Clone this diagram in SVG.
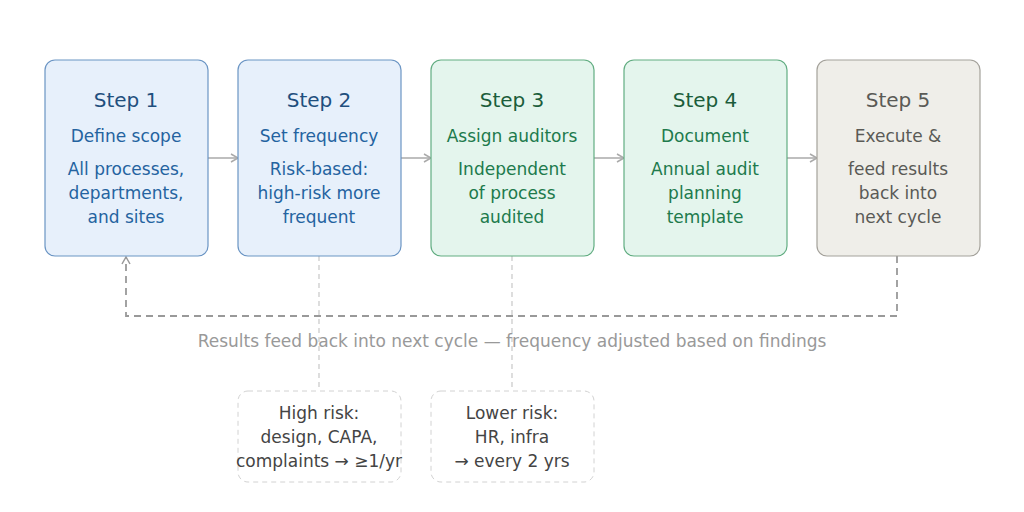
<svg xmlns="http://www.w3.org/2000/svg" width="1024" height="512" viewBox="0 0 1024 512">
<style>
text{font-family:"DejaVu Sans",sans-serif;text-anchor:middle;font-size:17px}
.t{font-size:20px}
.b rect{fill:#e7f0fb;stroke:#6b95c4;stroke-width:1.2}
.b text{fill:#2463a0}.b .t{fill:#1f4f7e}
.g rect{fill:#e4f5ed;stroke:#62ad82;stroke-width:1.2}
.g text{fill:#207a4c}.g .t{fill:#1b5d3b}
.y rect{fill:#efeee9;stroke:#a4a29b;stroke-width:1.2}
.y text{fill:#5a5a56}
.n rect{fill:#fff;stroke:#d2d2d2;stroke-dasharray:5 4}
.n text{fill:#444}
.c{fill:none;stroke:#aaa;stroke-width:1.5}
.d{fill:none;stroke:#999;stroke-width:1.8;stroke-dasharray:7 5}
.l{fill:none;stroke:#ccc;stroke-width:1.3;stroke-dasharray:5 4}
</style>
<defs><marker id="a" markerWidth="10" markerHeight="10" refX="8" refY="5" orient="auto" markerUnits="userSpaceOnUse"><path d="M1,1 L8,5 L1,9" fill="none" stroke="#aaa" stroke-width="1.5"/></marker>
<marker id="a2" markerWidth="10" markerHeight="10" refX="8" refY="5" orient="auto" markerUnits="userSpaceOnUse"><path d="M1,1 L8,5 L1,9" fill="none" stroke="#999" stroke-width="1.5"/></marker></defs>
<g id="connectors">
<path class="c" d="M208 158H238" marker-end="url(#a)"/>
<path class="c" d="M401 158H431" marker-end="url(#a)"/>
<path class="c" d="M594 158H624" marker-end="url(#a)"/>
<path class="c" d="M787 158H817" marker-end="url(#a)"/>
<path class="d" d="M897 256V316H126V257" marker-end="url(#a2)"/>
<path class="l" d="M319 256V391"/>
<path class="l" d="M512 256V391"/>
</g>
<g id="step1" class="b"><rect x="45" y="60" width="163" height="196" rx="10"/><text class="t" x="126" y="107">Step 1</text><text x="126" y="142">Define scope</text><text x="126" y="175">All processes,</text><text x="126" y="199">departments,</text><text x="126" y="223">and sites</text></g>
<g id="step2" class="b"><rect x="238" y="60" width="163" height="196" rx="10"/><text class="t" x="319" y="107">Step 2</text><text x="319" y="142">Set frequency</text><text x="319" y="175">Risk-based:</text><text x="319" y="199">high-risk more</text><text x="319" y="223">frequent</text></g>
<g id="step3" class="g"><rect x="431" y="60" width="163" height="196" rx="10"/><text class="t" x="512" y="107">Step 3</text><text x="512" y="142">Assign auditors</text><text x="512" y="175">Independent</text><text x="512" y="199">of process</text><text x="512" y="223">audited</text></g>
<g id="step4" class="g"><rect x="624" y="60" width="163" height="196" rx="10"/><text class="t" x="705" y="107">Step 4</text><text x="705" y="142">Document</text><text x="705" y="175">Annual audit</text><text x="705" y="199">planning</text><text x="705" y="223">template</text></g>
<g id="step5" class="y"><rect x="817" y="60" width="163" height="196" rx="10"/><text class="t" x="898" y="107">Step 5</text><text x="898" y="142">Execute &amp;</text><text x="898" y="175">feed results</text><text x="898" y="199">back into</text><text x="898" y="223">next cycle</text></g>
<text x="512" y="347" fill="#999">Results feed back into next cycle — frequency adjusted based on findings</text>
<g id="note1" class="n"><rect x="238" y="391" width="163" height="91" rx="10"/><text x="319" y="419">High risk:</text><text x="319" y="443">design, CAPA,</text><text x="319" y="467">complaints → ≥1/yr</text></g>
<g id="note2" class="n"><rect x="431" y="391" width="163" height="91" rx="10"/><text x="512" y="419">Lower risk:</text><text x="512" y="443">HR, infra</text><text x="512" y="467">→ every 2 yrs</text></g>
</svg>
